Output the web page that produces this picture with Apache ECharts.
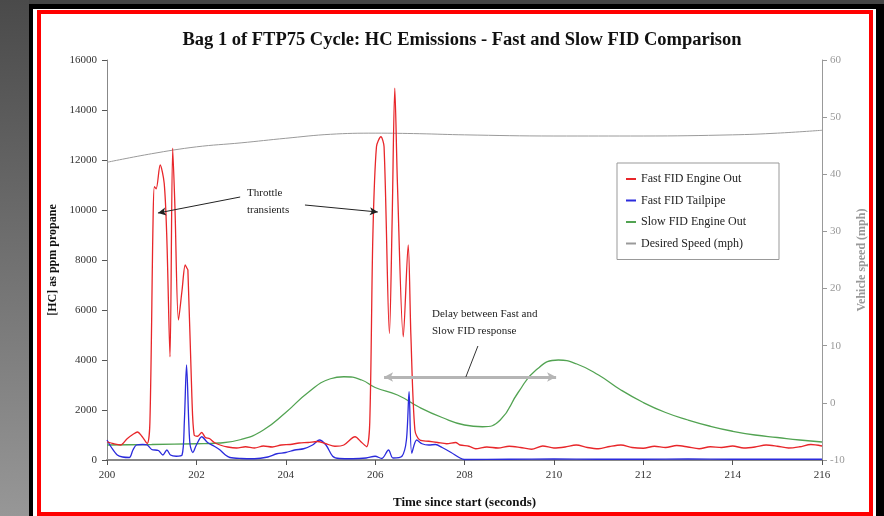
<!DOCTYPE html>
<html>
<head>
<meta charset="utf-8">
<script src="https://cdn.jsdelivr.net/npm/echarts@6/dist/echarts.min.js"></script>
<style>
  html, body { margin: 0; padding: 0; }
  body { width: 884px; height: 516px; background: #454545; position: relative; overflow: hidden; }
  .strip { position: absolute; left: 0; top: 0; width: 29px; height: 516px; background: linear-gradient(#4a4a4a, #979797); }
  .frame_black { position: absolute; left: 29px; top: 4px; width: 855px; height: 512px; background: #000; }
  .frame_white { position: absolute; left: 33px; top: 9px; width: 843px; height: 507px; background: #fff; }
  .frame_red { position: absolute; left: 37px; top: 10px; width: 828px; height: 498px; border: 4px solid #ff0000; }
  #chartWrap { position: absolute; left: 0; top: 0; width: 884px; height: 516px; }
</style>
</head>
<body>
<div class="strip"></div>
<div class="frame_black"></div>
<div class="frame_white"></div>
<div class="frame_red"></div>
<div id="chartWrap"></div>
<script>
// 时间轴 (秒)
var xTicks = [200, 216, 2];
var hcTicks = [0, 16000, 2000];
var speedTicks = [-10, 60, 10];

// Fast FID Engine Out
var redTime = [200.0, 200.15, 200.3, 200.45, 200.6, 200.68, 200.78, 200.9, 200.96, 201.03, 201.06, 201.1, 201.19, 201.28, 201.34, 201.41, 201.47, 201.52, 201.6, 201.68, 201.75, 201.78, 201.81, 201.9, 201.95, 202.03, 202.12, 202.2, 202.3, 202.4, 202.53, 202.7, 202.9, 203.1, 203.3, 203.5, 203.7, 203.9, 204.1, 204.3, 204.5, 204.7, 204.9, 205.1, 205.3, 205.55, 205.7, 205.81, 205.88, 205.95, 206.03, 206.13, 206.2, 206.32, 206.38, 206.44, 206.5, 206.63, 206.74, 206.8, 206.89, 207.0, 207.2, 207.4, 207.6, 207.8, 207.9, 208.1, 208.25, 208.5, 208.75, 209.0, 209.25, 209.5, 209.75, 210.0, 210.25, 210.5, 210.75, 211.0, 211.25, 211.5, 211.75, 212.0, 212.25, 212.5, 212.75, 213.0, 213.25, 213.5, 213.75, 214.0, 214.25, 214.5, 214.75, 215.0, 215.25, 215.5, 215.75, 216.0];
var redHC = [730, 650, 600, 850, 1050, 1120, 950, 660, 1500, 9500, 10930, 10850, 11800, 11070, 8800, 4130, 12470, 10130, 5600, 6800, 7800, 7700, 7600, 2500, 1000, 950, 1100, 900, 850, 700, 600, 520, 480, 530, 480, 560, 520, 600, 620, 680, 700, 740, 650, 550, 600, 930, 700, 530, 1500, 9000, 12530, 12930, 12530, 5070, 9500, 14870, 11000, 4930, 8600, 5000, 1200, 800, 750, 700, 650, 700, 600, 550, 450, 520, 480, 550, 500, 430, 560, 480, 520, 600, 500, 450, 540, 600, 500, 470, 550, 500, 580, 520, 450, 530, 500, 560, 480, 520, 600, 550, 480, 530, 620, 560];

// Fast FID Tailpipe
var blueTime = [200.0, 200.1, 200.23, 200.35, 200.5, 200.58, 200.66, 200.8, 200.9, 201.0, 201.15, 201.25, 201.34, 201.42, 201.55, 201.68, 201.73, 201.78, 201.83, 201.86, 201.92, 202.0, 202.12, 202.25, 202.4, 202.53, 202.65, 202.75, 203.0, 203.3, 203.6, 203.8, 204.0, 204.2, 204.4, 204.6, 204.75, 204.9, 205.05, 205.2, 205.5, 205.8, 206.0, 206.15, 206.3, 206.4, 206.6, 206.7, 206.76, 206.82, 206.93, 207.05, 207.2, 207.35, 207.5, 207.7, 207.9, 208.0, 209.0, 210.0, 211.0, 212.0, 213.0, 214.0, 215.0, 216.0];
var blueHC = [800, 500, 200, 120, 100, 400, 600, 620, 600, 420, 380, 200, 400, 200, 150, 200, 1500, 3800, 1500, 600, 300, 600, 930, 700, 550, 400, 200, 100, 60, 50, 120, 250, 300, 400, 450, 600, 800, 600, 150, 60, 50, 80, 150, 60, 400, 80, 150, 800, 2730, 270, 800, 650, 600, 620, 500, 300, 80, 20, 30, 40, 30, 30, 40, 30, 30, 30];

// Slow FID Engine Out
var greenTime = [200, 201, 202, 202.5, 203, 203.5, 204, 204.5, 205, 205.3, 205.7, 206, 206.5, 207, 207.5, 208, 208.4, 208.8, 209.2, 209.6, 210.1, 210.5, 211, 211.5, 212, 212.5, 213, 213.5, 214, 214.5, 215, 215.5, 216];
var greenHC = [600, 620, 650, 680, 820, 1200, 1900, 2700, 3250, 3330, 3200, 2900, 2600, 2100, 1700, 1400, 1330, 1600, 2700, 3600, 4000, 3850, 3400, 2800, 2300, 1900, 1600, 1350, 1150, 1000, 900, 800, 720];

// Desired Speed (mph)
var speedTime = [200, 201, 202, 203, 204, 205, 206, 207, 208, 210, 212, 214, 215, 216];
var speedMph = [42.1, 43.6, 44.8, 45.5, 46.3, 47.0, 47.2, 47.1, 46.9, 46.7, 46.7, 46.9, 47.2, 47.7];

function zip(a, b) {
  var out = [];
  for (var i = 0; i < a.length; i++) {
    out.push([a[i], b[i]]);
  }
  return out;
}

// 不要千位分隔符
function plain(v) {
  return String(v);
}

var serif = '"Liberation Serif", "DejaVu Serif", serif';
var myChart = echarts.init(document.getElementById('chartWrap'));

var option = {
  backgroundColor: 'transparent',
  animation: false,
  title: {
    text: 'Bag 1 of FTP75 Cycle: HC Emissions - Fast and Slow FID Comparison',
    left: 457,
    top: 26,
    textAlign: 'center',
    textStyle: { fontFamily: serif, fontWeight: 'bold', fontSize: 18.5, color: '#111' }
  },
  legend: {
    orient: 'vertical',
    left: 617,
    top: 163,
    padding: [10, 33, 10, 9],
    itemGap: 9.5,
    itemWidth: 10,
    itemHeight: 2,
    icon: 'rect',
    backgroundColor: '#fff',
    borderColor: '#999',
    borderWidth: 1,
    textStyle: { fontFamily: serif, fontSize: 12, color: '#222' },
    data: ['Fast FID Engine Out', 'Fast FID Tailpipe', 'Slow FID Engine Out', 'Desired Speed (mph)']
  },
  grid: { left: 107, right: 62, top: 60, bottom: 56 },
  xAxis: {
    type: 'value',
    min: xTicks[0],
    max: xTicks[1],
    interval: xTicks[2],
    name: 'Time since start (seconds)',
    nameLocation: 'middle',
    nameGap: 36,
    nameTextStyle: { fontFamily: serif, fontWeight: 'bold', fontSize: 13, color: '#111' },
    splitLine: { show: false },
    axisLine: { lineStyle: { color: '#888', width: 2 } },
    axisTick: { length: 5, lineStyle: { color: '#555' } },
    axisLabel: { fontFamily: serif, fontSize: 11, color: '#333', margin: 10, formatter: plain }
  },
  yAxis: [{
    type: 'value',
    min: hcTicks[0],
    max: hcTicks[1],
    interval: hcTicks[2],
    name: '[HC] as ppm propane',
    nameLocation: 'middle',
    nameRotate: 90,
    nameGap: 46,
    nameTextStyle: { fontFamily: serif, fontWeight: 'bold', fontSize: 12, color: '#111' },
    splitLine: { show: false },
    axisLine: { show: true, lineStyle: { color: '#888' } },
    axisTick: { show: true, length: 5, lineStyle: { color: '#555' } },
    axisLabel: { fontFamily: serif, fontSize: 11, color: '#333', margin: 10, formatter: plain }
  }, {
    type: 'value',
    position: 'right',
    min: speedTicks[0],
    max: speedTicks[1],
    interval: speedTicks[2],
    name: 'Vehicle speed (mph)',
    nameLocation: 'middle',
    nameRotate: 90,
    nameGap: 34,
    nameTextStyle: { fontFamily: serif, fontWeight: 'bold', fontSize: 12, color: '#999' },
    splitLine: { show: false },
    axisLine: { show: true, lineStyle: { color: '#999' } },
    axisTick: { show: true, length: 5, lineStyle: { color: '#999' } },
    axisLabel: { fontFamily: serif, fontSize: 11, color: '#999', margin: 8 }
  }],
  series: [{
    name: 'Desired Speed (mph)',
    type: 'line',
    yAxisIndex: 1,
    showSymbol: false,
    smooth: 0.4,
    color: '#9a9a9a',
    lineStyle: { width: 1, color: '#9a9a9a' },
    data: zip(speedTime, speedMph)
  }, {
    name: 'Slow FID Engine Out',
    type: 'line',
    showSymbol: false,
    smooth: 0.5,
    color: '#52a352',
    lineStyle: { width: 1.3, color: '#52a352' },
    data: zip(greenTime, greenHC)
  }, {
    name: 'Fast FID Tailpipe',
    type: 'line',
    showSymbol: false,
    smooth: 0.3,
    color: '#2b2bdc',
    lineStyle: { width: 1.3, color: '#2b2bdc' },
    data: zip(blueTime, blueHC)
  }, {
    name: 'Fast FID Engine Out',
    type: 'line',
    showSymbol: false,
    smooth: 0.3,
    color: '#e8262a',
    lineStyle: { width: 1.3, color: '#e8262a' },
    data: zip(redTime, redHC),
    markLine: {
      silent: true,
      animation: false,
      label: { show: false },
      data: [
        [{ coord: [202.98, 10520], symbol: 'none', lineStyle: { color: '#222', width: 1, type: 'solid' } }, { coord: [201.14, 9880], symbol: 'arrow', symbolSize: [6, 8] }],
        [{ coord: [204.43, 10200], symbol: 'none', lineStyle: { color: '#222', width: 1, type: 'solid' } }, { coord: [206.06, 9920], symbol: 'arrow', symbolSize: [6, 8] }],
        [{ coord: [206.2, 3320], symbol: 'arrow', symbolSize: [7, 9], lineStyle: { color: '#b5b5b5', width: 3, type: 'solid' } }, { coord: [210.05, 3320], symbol: 'arrow', symbolSize: [7, 9] }],
        [{ coord: [208.3, 4560], symbol: 'none', lineStyle: { color: '#333', width: 1, type: 'solid' } }, { coord: [208.03, 3320], symbol: 'none' }]
      ]
    }
  }],
  graphic: [{
    type: 'text',
    left: 247,
    top: 185,
    style: { text: 'Throttle\ntransients', fontFamily: serif, fontSize: 11, fill: '#222', align: 'center', lineHeight: 17 }
  }, {
    type: 'text',
    left: 432,
    top: 306,
    style: { text: 'Delay between Fast and\nSlow FID response', fontFamily: serif, fontSize: 11, fill: '#222', lineHeight: 17 }
  }]
};

myChart.setOption(option);
</script>
</body>
</html>
